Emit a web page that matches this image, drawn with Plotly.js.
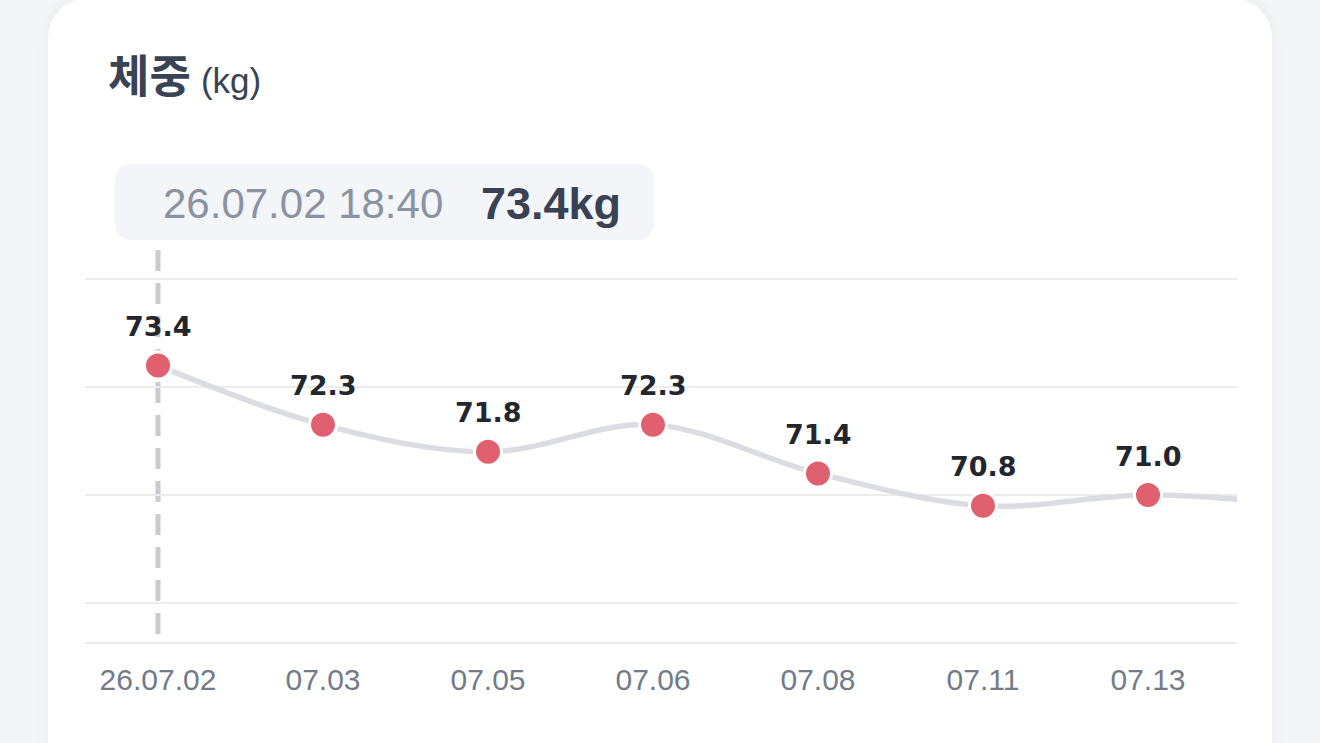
<!DOCTYPE html>
<html>
<head>
<meta charset="utf-8">
<script src="https://cdn.plot.ly/plotly-3.0.1.min.js"></script>
<style>
  html, body { margin:0; padding:0; width:1320px; height:743px; overflow:hidden; background:#f4f5f7; }
  #card { position:absolute; left:48px; top:-2px; width:1224px; height:820px; background:#ffffff;
          border-radius:40px; box-shadow:0 0 14px rgba(30,40,60,0.05); }
  #chart { position:absolute; left:0; top:0; width:1320px; height:743px; }
</style>
</head>
<body>
<div id="card"></div>
<div id="chart"></div>
<script>
// ---- data ----
const dates   = ['26.07.02', '07.03', '07.05', '07.06', '07.08', '07.11', '07.13', '07.15'];
const weights = [73.4, 72.3, 71.8, 72.3, 71.4, 70.8, 71.0, 70.8];
const visibleCount = 7;
const gridValues = [69, 71, 73, 75];
const selectedIndex = 0;
const selectedTime = '26.07.02 18:40';
const selectedLabel = '73.4kg';
const chartTitle = '체중';
const chartUnit = '(kg)';

// ---- layout helpers (pixels -> paper) ----
const L = 85, R = 1237, T = 277, B = 642;
const W = R - L, H = B - T;
const px = x => (x - L) / W;
const py = y => (B - y) / H;
const PPK = 54; // pixels per kg

function roundRect(x0, y0, x1, y1, r) {
  const p = (x, y) => px(x).toFixed(5) + ',' + py(y).toFixed(5);
  return 'M' + p(x0 + r, y0) +
    ' L' + p(x1 - r, y0) + ' Q' + p(x1, y0) + ' ' + p(x1, y0 + r) +
    ' L' + p(x1, y1 - r) + ' Q' + p(x1, y1) + ' ' + p(x1 - r, y1) +
    ' L' + p(x0 + r, y1) + ' Q' + p(x0, y1) + ' ' + p(x0, y1 - r) +
    ' L' + p(x0, y0 + r) + ' Q' + p(x0, y0) + ' ' + p(x0 + r, y0) + ' Z';
}

const xIdx = dates.map((d, i) => i);

const trace = {
  type: 'scatter',
  mode: 'lines+markers',
  x: xIdx,
  y: weights,
  line: { shape: 'spline', color: '#dcdde2', width: 5.5 },
  marker: { size: 27, color: '#e0606f', line: { color: '#ffffff', width: 3 } },
  cliponaxis: true,
  hoverinfo: 'skip'
};

const valueLabels = xIdx.slice(0, visibleCount).map(i => ({
  xref: 'x', yref: 'y', x: i, y: weights[i], yshift: 39,
  xanchor: 'center', yanchor: 'middle', showarrow: false,
  text: '<b>' + weights[i].toFixed(1) + '</b>',
  font: { family: 'DejaVu Sans, sans-serif', size: 27, color: '#23262d' }
}));

const layout = {
  width: 1320, height: 743,
  margin: { l: L, r: 1320 - R, t: T, b: 743 - B, pad: 0 },
  paper_bgcolor: 'rgba(0,0,0,0)',
  plot_bgcolor: 'rgba(0,0,0,0)',
  showlegend: false,
  xaxis: {
    range: [-73 / 165, -73 / 165 + W / 165],
    tickvals: xIdx.slice(0, visibleCount),
    ticktext: dates.slice(0, visibleCount),
    showgrid: false, zeroline: false,
    showline: true, linecolor: '#e9eaed', linewidth: 2,
    ticks: '', ticklabelstandoff: 10,
    tickfont: { family: 'Liberation Sans, Arial, sans-serif', size: 30, color: '#737b89' },
    fixedrange: true
  },
  yaxis: {
    range: [69 - 39 / PPK, 75 + 2 / PPK],
    tickvals: gridValues,
    showticklabels: false,
    showgrid: true, gridcolor: '#ececef', gridwidth: 2,
    zeroline: false, showline: false, fixedrange: true
  },
  shapes: [
    {
      type: 'line', xref: 'x', yref: 'paper',
      x0: xIdx[selectedIndex], x1: xIdx[selectedIndex], y0: py(634), y1: py(250),
      line: { color: '#c9cbd0', width: 5, dash: '21px,12px' }, layer: 'below'
    },
    {
      type: 'path', xref: 'paper', yref: 'paper',
      path: roundRect(115, 164, 654, 240, 18),
      fillcolor: '#f3f5f8', line: { width: 0 }, layer: 'below'
    }
  ],
  annotations: valueLabels.concat([
    {
      xref: 'paper', yref: 'paper', x: px(106), y: py(74), xanchor: 'left', yanchor: 'middle',
      showarrow: false,
      text: '<b>' + chartTitle + '</b> <span style="font-size:35px;font-family:Liberation Sans, Arial;">' + chartUnit + '</span>',
      font: { family: 'Noto Sans CJK KR, sans-serif', size: 45, color: '#3a4354' }
    },
    {
      xref: 'paper', yref: 'paper', x: px(161), y: py(203), xanchor: 'left', yanchor: 'middle',
      showarrow: false, text: selectedTime,
      font: { family: 'Liberation Sans, Arial, sans-serif', size: 42, color: '#8a93a2' }
    },
    {
      xref: 'paper', yref: 'paper', x: px(479), y: py(203), xanchor: 'left', yanchor: 'middle',
      showarrow: false, text: '<b>' + selectedLabel + '</b>',
      font: { family: 'Liberation Sans, Arial, sans-serif', size: 45, color: '#384254' }
    }
  ])
};

Plotly.newPlot('chart', [trace], layout, { displayModeBar: false, staticPlot: true });
</script>
</body>
</html>
